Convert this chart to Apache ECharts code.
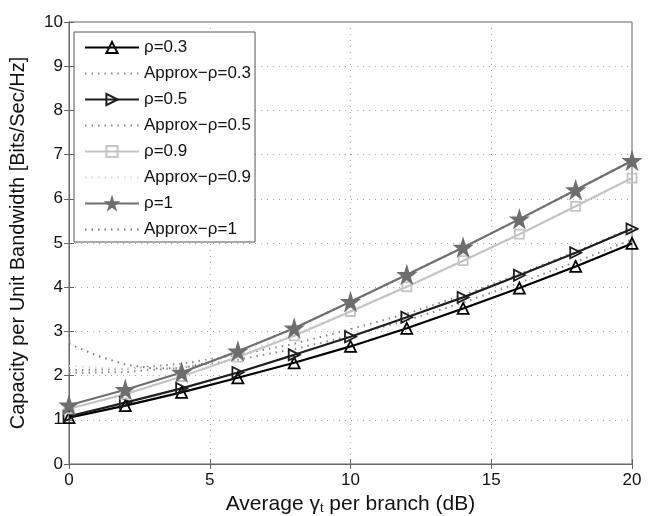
<!DOCTYPE html>
<html>
<head>
<meta charset="utf-8">
<script src="https://cdn.jsdelivr.net/npm/echarts@6/dist/echarts.min.js"></script>
<style>
  html, body { margin: 0; padding: 0; background: #fff; }
  #chart { width: 654px; height: 516px; }
</style>
</head>
<body>
<div id="chart"></div>
<script>
// 数据
var snr = [0, 2, 4, 6, 8, 10, 12, 14, 16, 18, 20];
var rho03 = [1.05, 1.32, 1.62, 1.95, 2.29, 2.66, 3.07, 3.52, 3.98, 4.47, 4.99];
var rho05 = [1.08, 1.39, 1.71, 2.07, 2.47, 2.88, 3.32, 3.77, 4.27, 4.78, 5.32];
var rho09 = [1.25, 1.58, 1.98, 2.42, 2.90, 3.45, 4.01, 4.60, 5.20, 5.83, 6.47];
var rho1 = [1.33, 1.68, 2.07, 2.55, 3.07, 3.67, 4.28, 4.90, 5.54, 6.20, 6.86];
var approx03 = [2.06, 2.08, 2.18, 2.36, 2.60, 2.90, 3.25, 3.65, 4.10, 4.57, 5.08];
var approx05 = [2.12, 2.15, 2.27, 2.47, 2.72, 3.05, 3.40, 3.82, 4.30, 4.80, 5.34];
var approx09 = [2.22, 2.15, 2.20, 2.50, 2.93, 3.46, 4.02, 4.60, 5.20, 5.83, 6.47];
var approx1X = [0, 1, 2, 3, 4, 5, 6, 8, 10, 12, 14, 16, 18, 20];
var approx1Y = [2.72, 2.45, 2.25, 2.16, 2.17, 2.30, 2.55, 3.07, 3.67, 4.28, 4.90, 5.54, 6.20, 6.86];
var xTicks = [0, 5, 10, 15, 20];
var yTicks = [0, 1, 2, 3, 4, 5, 6, 7, 8, 9, 10];

function pairs(xs, ys) {
    return xs.map(function (x, i) { return [x, ys[i]]; });
}

var font = 'Liberation Sans, Arial, sans-serif';
var star = 'path://M50,0 L61,35 L98,35 L68,57 L79,91 L50,70 L21,91 L32,57 L2,35 L39,35 Z';

function exact(name, data, color, symbol, size, rotate, filled) {
    return {
        name: name,
        type: 'line',
        data: pairs(snr, data),
        symbol: symbol,
        symbolSize: size,
        symbolRotate: rotate,
        showAllSymbol: true,
        color: color,
        lineStyle: { color: color, width: 2.2 },
        itemStyle: { color: filled ? color : 'rgba(255,255,255,0)', borderColor: color, borderWidth: 1.8 },
        emphasis: { disabled: true },
        z: 3
    };
}

function approx(name, data, color) {
    return {
        name: name,
        type: 'line',
        data: data,
        symbol: 'none',
        color: color,
        lineStyle: { color: color, width: 2, type: [1.5, 5] },
        emphasis: { disabled: true },
        z: 2
    };
}

function approxLegend(name) {
    return { name: name, itemStyle: { opacity: 0 } };
}

var myChart = echarts.init(document.getElementById('chart'));
var option = {
    animation: false,
    backgroundColor: '#fff',
    grid: { left: 69, right: 22, top: 22, bottom: 52, outerBoundsMode: 'none', show: true, borderColor: '#666', borderWidth: 1 },
    legend: {
        orient: 'vertical',
        left: 74,
        top: 32,
        itemWidth: 54,
        itemHeight: 14,
        itemGap: 9,
        padding: [7, 4, 4, 10],
        borderColor: '#555',
        borderWidth: 1,
        backgroundColor: '#fff',
        textStyle: { fontFamily: font, fontSize: 17, color: '#111' },
        data: ['ρ=0.3', approxLegend('Approx−ρ=0.3'), 'ρ=0.5', approxLegend('Approx−ρ=0.5'),
               'ρ=0.9', approxLegend('Approx−ρ=0.9'), 'ρ=1', approxLegend('Approx−ρ=1')]
    },
    xAxis: [{
        type: 'value',
        min: xTicks[0],
        max: xTicks[xTicks.length - 1],
        interval: 5,
        name: 'Average γ{sub|t} per branch (dB)',
        nameLocation: 'middle',
        nameGap: 19,
        nameTextStyle: {
            fontFamily: font, fontSize: 21, color: '#111', verticalAlign: 'top',
            rich: { sub: { fontFamily: font, fontSize: 13, color: '#111', verticalAlign: 'bottom', padding: [9, 0, 0, 0] } }
        },
        axisLine: { lineStyle: { color: '#666' } },
        axisTick: { inside: true, length: 5, lineStyle: { color: '#666' } },
        axisLabel: { fontFamily: font, fontSize: 17, color: '#111', margin: 8 },
        splitLine: { show: true, lineStyle: { color: '#aaa', type: [1, 5] } }
    }, {
        type: 'value',
        position: 'top',
        min: 0, max: 20, interval: 5,
        axisLine: { lineStyle: { color: '#666' } },
        axisTick: { inside: true, length: 5, lineStyle: { color: '#666' } },
        axisLabel: { show: false },
        splitLine: { show: false }
    }],
    yAxis: [{
        type: 'value',
        min: yTicks[0],
        max: yTicks[yTicks.length - 1],
        interval: 1,
        name: 'Capacity per Unit Bandwidth [Bits/Sec/Hz]',
        nameLocation: 'middle',
        nameGap: 41,
        nameTextStyle: { fontFamily: font, fontSize: 20, color: '#111' },
        axisLine: { lineStyle: { color: '#666' } },
        axisTick: { inside: true, length: 5, lineStyle: { color: '#666' } },
        axisLabel: { fontFamily: font, fontSize: 17, color: '#111', margin: 6 },
        splitLine: { show: true, lineStyle: { color: '#aaa', type: [1, 5] } }
    }, {
        type: 'value',
        position: 'right',
        min: 0, max: 10, interval: 1,
        axisLine: { lineStyle: { color: '#666' } },
        axisTick: { inside: true, length: 5, lineStyle: { color: '#666' } },
        axisLabel: { show: false },
        splitLine: { show: false }
    }],
    series: [
        exact('ρ=0.3', rho03, '#000000', 'triangle', 11, 0, false),
        approx('Approx−ρ=0.3', pairs(snr, approx03), '#8a8a8a'),
        exact('ρ=0.5', rho05, '#1e1e1e', 'triangle', 11, -90, false),
        approx('Approx−ρ=0.5', pairs(snr, approx05), '#8a8a8a'),
        exact('ρ=0.9', rho09, '#c4c4c4', 'rect', 9, 0, false),
        approx('Approx−ρ=0.9', pairs(snr, approx09), '#dadada'),
        exact('ρ=1', rho1, '#6e6e6e', star, 16, 0, true),
        approx('Approx−ρ=1', pairs(approx1X, approx1Y), '#7a7a7a')
    ]
};
myChart.setOption(option);
</script>
</body>
</html>
